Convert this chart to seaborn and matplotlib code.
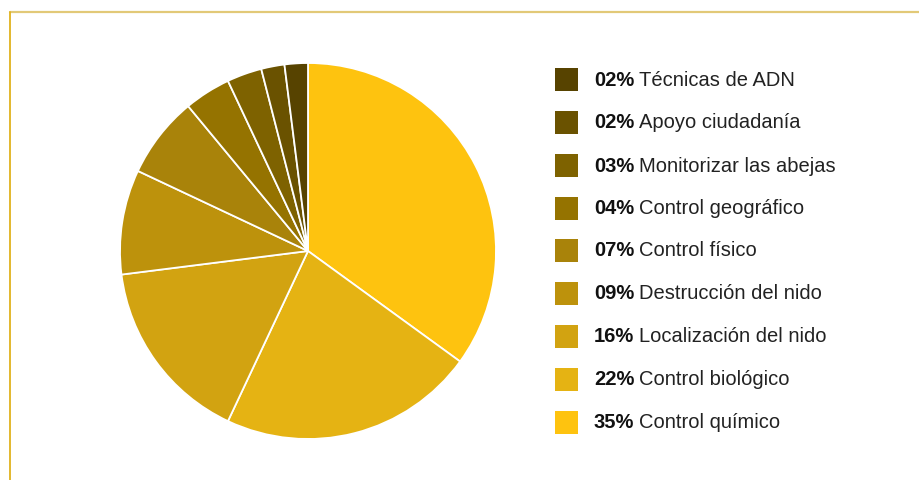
import matplotlib
matplotlib.use("Agg")
import matplotlib.pyplot as plt
from matplotlib.patches import Rectangle
from matplotlib.lines import Line2D
import seaborn as sns

labels = ["Control químico", "Control biológico", "Localización del nido",
          "Destrucción del nido", "Control físico", "Control geográfico",
          "Monitorizar las abejas", "Apoyo ciudadanía", "Técnicas de ADN"]
values = [35, 22, 16, 9, 7, 4, 3, 2, 2]
pct_labels = ["35%", "22%", "16%", "09%", "07%", "04%", "03%", "02%", "02%"]
colors = ["#FEC30F", "#E5B313", "#D2A311", "#BD920C", "#A9830A", "#957300",
          "#7E6200", "#6A5200", "#574300"]

sns.set_style("white")
plt.rcParams['font.family'] = ['Liberation Sans', 'DejaVu Sans']

W, H = 920, 481
fig = plt.figure(figsize=(W / 100, H / 100), dpi=100)
fig.patch.set_facecolor("white")

# pie
cx, cy, r = 308, 252, 188
ax = fig.add_axes([(cx - r) / W, (H - cy - r) / H, 2 * r / W, 2 * r / H])
ax.pie(values, colors=colors, startangle=90, counterclock=False, radius=1,
       wedgeprops=dict(edgecolor="white", linewidth=1.3))
ax.set_xlim(-1.0, 1.0)
ax.set_ylim(-1.0, 1.0)
ax.set_aspect("equal")
ax.axis("off")

# border lines
fig.add_artist(Line2D([10 / W, 1], [1 - 13 / H, 1 - 13 / H], transform=fig.transFigure,
                      color="#E2C977", linewidth=1.6))
fig.add_artist(Line2D([10.5 / W, 10.5 / W], [0, 1 - 13 / H], transform=fig.transFigure,
                      color="#E1B21E", linewidth=1.3))

# legend (reversed order: smallest first)
ys = [80, 123, 166, 209, 251, 294, 337, 380, 423]
order = list(range(len(labels)))[::-1]
renderer = fig.canvas.get_renderer()
for y, i in zip(ys, order):
    fig.add_artist(Rectangle(((555) / W, (H - y - 12) / H), 23 / W, 23 / H,
                             transform=fig.transFigure, facecolor=colors[i],
                             edgecolor="none"))
    t = fig.text(594 / W, (H - y) / H, pct_labels[i], fontsize=14.5, fontweight="bold",
                 color="#111111", va="center", ha="left")
    bb = t.get_window_extent(renderer=renderer)
    fig.text((bb.x1 + 5) / W, (H - y) / H, labels[i], fontsize=14.5,
             color="#222222", va="center", ha="left")

fig.savefig("out.png", dpi=100, facecolor="white")
